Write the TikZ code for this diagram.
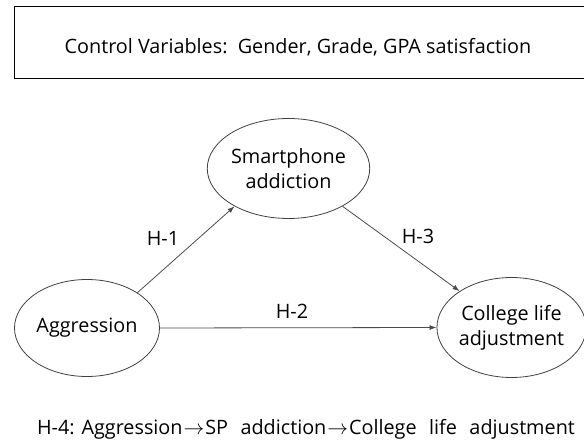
\documentclass[tikz,border=0pt]{standalone}
\usepackage{fontspec}
\setmainfont{Open Sans}
\newcommand{\rarr}{\kern1pt$\rightarrow$\kern1pt}
\newcommand{\wsp}{\hspace{12.5pt}}
\usetikzlibrary{arrows.meta,shapes.geometric}
\begin{document}
\begin{tikzpicture}[x=1pt,y=-1pt,
  every node/.style={font=\fontsize{19.8}{25}\selectfont},
  ctrlbox/.style={draw=black, line width=0.9pt, anchor=north west, inner sep=0pt,
    minimum width=580pt, minimum height=72pt},
  var/.style={ellipse, draw=black!75, line width=0.8pt, inner sep=0pt,
    minimum width=145pt, minimum height=100pt, align=center},
  path/.style={draw=black!70, line width=0.8pt, -{Latex[length=7pt,width=5pt]}},
  lbl/.style={inner sep=0pt}]
\useasboundingbox (0,0) rectangle (584,443);
\node[ctrlbox] (ctrl) at (14,6) {};
\node[lbl] (ctrltext) at (298,47) {Control Variables:\ \ Gender,\ Grade,\ GPA satisfaction};
\node[var, minimum height=97pt] (agg) at (87,328) {Aggression};
\node[var] (sp) at (288.5,168.5) {Smartphone\\addiction};
\node[var] (col) at (511.5,327.5) {College life\\adjustment};
\draw[path] (agg.35) -- (sp.215);
\draw[path] (sp.-35) -- (col.145);
\draw[path] (agg.east) -- (col.west);
\node[lbl] (h1) at (163,238) {H-1};
\node[lbl] (h3) at (418,236) {H-3};
\node[lbl] (h2) at (292,311) {H-2};
\node[lbl, anchor=base] (h4) at (306,435) {H-4: Aggression\rarr SP\wsp addiction\rarr College\wsp life\wsp adjustment};
\end{tikzpicture}
\end{document}
